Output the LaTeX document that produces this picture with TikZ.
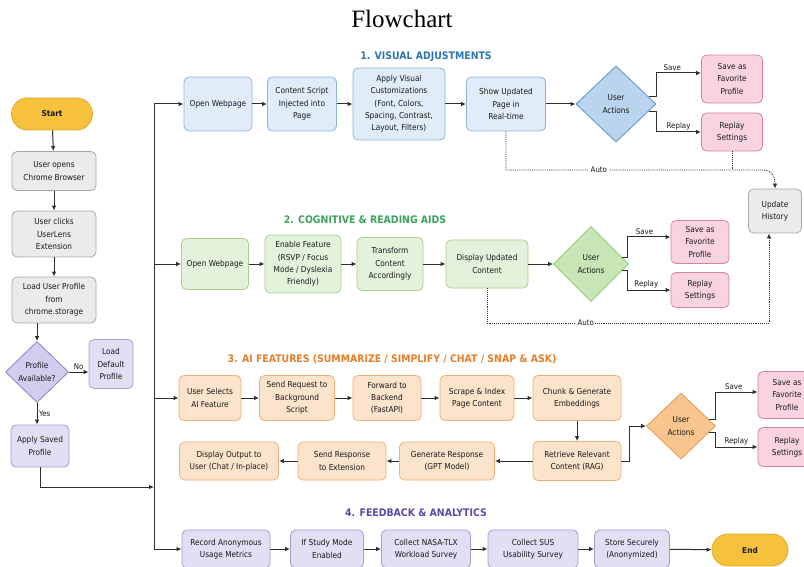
\documentclass[tikz,border=0pt]{standalone}
\usepackage{fontspec}
\setmainfont{DejaVu Sans Condensed}
\newfontfamily\titleserif{Liberation Serif}
\usetikzlibrary{shapes.geometric,arrows.meta,backgrounds}
\definecolor{bfill}{HTML}{E0ECF8}\definecolor{bdraw}{HTML}{8DB4DD}
\definecolor{bdfill}{HTML}{BAD4EE}\definecolor{bddraw}{HTML}{5B93CC}
\definecolor{gfill}{HTML}{E4F2DB}\definecolor{gdraw}{HTML}{A8D08D}
\definecolor{gdfill}{HTML}{C9E5B5}\definecolor{gddraw}{HTML}{8BC26C}
\definecolor{ofill}{HTML}{FCE3CB}\definecolor{odraw}{HTML}{F0B077}
\definecolor{odfill}{HTML}{F9C58E}\definecolor{oddraw}{HTML}{E5994C}
\definecolor{pfill}{HTML}{FAD3E3}\definecolor{pdraw}{HTML}{D8829F}
\definecolor{ufill}{HTML}{E2DEF3}\definecolor{udraw}{HTML}{A79BD6}
\definecolor{udfill}{HTML}{D4CCEE}\definecolor{uddraw}{HTML}{8E80C8}
\definecolor{kfill}{HTML}{EBEBEB}\definecolor{kdraw}{HTML}{A8A8A8}
\definecolor{yfill}{HTML}{F7C23B}\definecolor{ydraw}{HTML}{E0A82E}
\definecolor{tblue}{HTML}{2E75B6}\definecolor{tgreen}{HTML}{3BA35B}
\definecolor{torange}{HTML}{E67E2A}\definecolor{tpurple}{HTML}{5A4AA8}
\definecolor{linec}{HTML}{2E2E2E}
\newcommand\boxfont{\fontsize{8.2}{12.3}\selectfont}
\newcommand\lblfont{\fontsize{7.8}{9}\selectfont}
\newcommand\secfont{\fontsize{10.4}{12}\selectfont\bfseries}
\begin{document}
\begin{tikzpicture}[x=1pt,y=-1pt,
  box/.style={draw, rounded corners=5pt, align=center, inner sep=1pt, line width=0.8pt, font=\boxfont, text=black!90},
  bluebox/.style={box, fill=bfill, draw=bdraw},
  greenbox/.style={box, fill=gfill, draw=gdraw},
  orangebox/.style={box, fill=ofill, draw=odraw},
  pinkbox/.style={box, fill=pfill, draw=pdraw},
  purplebox/.style={box, fill=ufill, draw=udraw},
  graybox/.style={box, fill=kfill, draw=kdraw},
  termbox/.style={box, fill=yfill, draw=ydraw, rounded corners=16pt, font=\boxfont\bfseries},
  dia/.style={diamond, draw, align=center, inner sep=0pt, line width=0.8pt, font=\boxfont, text=black!90},
  sectitle/.style={font=\secfont, inner sep=0pt},
  lbl/.style={font=\lblfont, inner sep=1.5pt, text=black!90},
  arr/.style={draw=linec, line width=1pt, -{Latex[length=5pt,width=4.5pt]}},
  plain/.style={draw=linec, line width=1pt},
  dotarr/.style={draw=linec, line width=0.9pt, densely dotted, -{Latex[length=5pt,width=4.5pt]}},
  dotline/.style={draw=linec, line width=0.9pt, densely dotted},
  autolbl/.style={font=\lblfont, fill=white, inner sep=1.5pt, text=black!90}
]
\useasboundingbox (0,0) rectangle (804,567);
\fill[white] (0,0) rectangle (804,567);

\node[font=\titleserif\fontsize{25}{28}\selectfont, inner sep=0pt] (title) at (402,19) {Flowchart};

% section titles
\node[sectitle, text=tblue] (t1) at (426,57) {1. VISUAL ADJUSTMENTS};
\node[sectitle, text=tgreen] (t2) at (365,220) {2. COGNITIVE \& READING AIDS};
\node[sectitle, text=torange] (t3) at (392,359) {3. AI FEATURES (SUMMARIZE / SIMPLIFY / CHAT / SNAP \& ASK)};
\node[sectitle, text=tpurple] (t4) at (416,513) {4. FEEDBACK \& ANALYTICS};

% left column
\node[termbox, minimum width=81pt, minimum height=32pt] (start) at (52,114) {Start};
\node[graybox, minimum width=84pt, minimum height=39pt] (chrome) at (54,171) {User opens\\Chrome Browser};
\node[graybox, minimum width=84pt, minimum height=46pt] (clicks) at (54,234) {User clicks\\UserLens\\Extension};
\node[graybox, minimum width=84pt, minimum height=46pt] (load) at (54,300) {Load User Profile\\from\\chrome.storage};
\node[dia, fill=udfill, draw=uddraw, minimum width=63pt, minimum height=61pt] (avail) at (37,372) {Profile\\Available?};
\node[purplebox, minimum width=44pt, minimum height=49pt] (default) at (111,364) {Load\\Default\\Profile};
\node[purplebox, minimum width=58pt, minimum height=42pt] (apply) at (40,446) {Apply Saved\\Profile};

% row 1
\node[bluebox, minimum width=68pt, minimum height=54pt] (v1) at (218,104) {Open Webpage};
\node[bluebox, minimum width=69pt, minimum height=54pt] (v2) at (302,104) {Content Script\\Injected into\\Page};
\node[bluebox, minimum width=92pt, minimum height=72pt] (v3) at (399,104) {Apply Visual\\Customizations\\(Font, Colors,\\Spacing, Contrast,\\Layout, Filters)};
\node[bluebox, minimum width=79pt, minimum height=54pt] (v4) at (506,104) {Show Updated\\Page in\\Real-time};
\node[dia, fill=bdfill, draw=bddraw, minimum width=80pt, minimum height=76pt] (u1) at (616,104) {User\\Actions};
\node[pinkbox, minimum width=61pt, minimum height=48pt] (s1) at (732,79) {Save as\\Favorite\\Profile};
\node[pinkbox, minimum width=61pt, minimum height=38pt] (r1) at (732,132) {Replay\\Settings};
\node[graybox, minimum width=53pt, minimum height=44pt] (hist) at (775,211) {Update\\History};

% row 2
\node[greenbox, minimum width=67pt, minimum height=51pt] (g1) at (215,264) {Open Webpage};
\node[greenbox, minimum width=76pt, minimum height=58pt] (g2) at (303,264) {Enable Feature\\(RSVP / Focus\\Mode / Dyslexia\\Friendly)};
\node[greenbox, minimum width=66pt, minimum height=53pt] (g3) at (390,264) {Transform\\Content\\Accordingly};
\node[greenbox, minimum width=82pt, minimum height=48pt] (g4) at (487,264) {Display Updated\\Content};
\node[dia, fill=gdfill, draw=gddraw, minimum width=75pt, minimum height=75pt] (u2) at (591,264) {User\\Actions};
\node[pinkbox, minimum width=58pt, minimum height=43pt] (s2) at (700,242) {Save as\\Favorite\\Profile};
\node[pinkbox, minimum width=58pt, minimum height=35pt] (r2) at (700,290) {Replay\\Settings};

% row 3
\node[orangebox, minimum width=62pt, minimum height=45pt] (a1) at (210,398) {User Selects\\AI Feature};
\node[orangebox, minimum width=75pt, minimum height=45pt] (a2) at (297,398) {Send Request to\\Background\\Script};
\node[orangebox, minimum width=68pt, minimum height=45pt] (a3) at (387,398) {Forward to\\Backend\\(FastAPI)};
\node[orangebox, minimum width=74pt, minimum height=45pt] (a4) at (477,398) {Scrape \& Index\\Page Content};
\node[orangebox, minimum width=88pt, minimum height=45pt] (a5) at (577,398) {Chunk \& Generate\\Embeddings};
\node[orangebox, minimum width=88pt, minimum height=39pt] (a6) at (577,461) {Retrieve Relevant\\Content (RAG)};
\node[orangebox, minimum width=95pt, minimum height=38pt] (a7) at (447,461) {Generate Response\\(GPT Model)};
\node[orangebox, minimum width=88pt, minimum height=38pt] (a8) at (342,461) {Send Response\\to Extension};
\node[orangebox, minimum width=99pt, minimum height=38pt] (a9) at (229,461) {Display Output to\\User (Chat / In-place)};
\node[dia, fill=odfill, draw=oddraw, minimum width=69pt, minimum height=66pt] (u3) at (681,426) {User\\Actions};
\node[pinkbox, minimum width=58pt, minimum height=47pt] (s3) at (787,395) {Save as\\Favorite\\Profile};
\node[pinkbox, minimum width=58pt, minimum height=39pt] (r3) at (787,447) {Replay\\Settings};

% row 4
\node[purplebox, minimum width=88pt, minimum height=38pt] (f1) at (226,549) {Record Anonymous\\Usage Metrics};
\node[purplebox, minimum width=73pt, minimum height=38pt] (f2) at (327,549) {If Study Mode\\Enabled};
\node[purplebox, minimum width=89pt, minimum height=38pt] (f3) at (426,549) {Collect NASA-TLX\\Workload Survey};
\node[purplebox, minimum width=90pt, minimum height=38pt] (f4) at (533,549) {Collect SUS\\Usability Survey};
\node[purplebox, minimum width=75pt, minimum height=38pt] (f5) at (632,549) {Store Securely\\(Anonymized)};
\node[termbox, minimum width=76pt, minimum height=32pt] (end) at (750,550) {End};

% coordinates
\coordinate (tt) at (154,104);
\coordinate (tb) at (154,549);
\coordinate (tj) at (154,487);
\coordinate (au1) at (506,170);
\coordinate (au1r) at (764,170);
\coordinate (au2) at (487,323);
\coordinate (au2r) at (769,323);
\coordinate (au3s) at (511,461);
\coordinate (au3) at (511,494);
\coordinate (au3r) at (787,494);

% left column connectors
\draw[arr] (start) -- (chrome);
\draw[arr] (chrome) -- (clicks);
\draw[arr] (clicks) -- (load);
\draw[arr] (avail.north |- load.south) -- (avail.north);
\draw[arr] (avail.east) -- node[lbl, above]{No} (default.west |- avail.east);
\draw[arr] (avail.south) -- node[lbl, right]{Yes} (avail.south |- apply.north);
\draw[arr] (apply.south) |- (tj);

% trunk
\draw[plain] (tb) -- (tt);
\draw[arr] (tt) -- (v1.west);
\draw[arr] (tt |- g1.west) -- (g1.west);
\draw[arr] (tt |- a1.west) -- (a1.west);
\draw[arr] (tb) -- (f1.west);

% row 1
\draw[arr] (v1) -- (v2);
\draw[arr] (v2) -- (v3);
\draw[arr] (v3) -- (v4);
\draw[arr] (v4) -- (u1);
\draw[arr] (u1.12) -- ++(7,0) |- node[lbl, above, pos=0.68]{Save} ([yshift=6pt]s1.west);
\draw[arr] (u1.-12) -- ++(7,0) |- node[lbl, above, pos=0.75]{Replay} (r1.west);
\draw[dotarr] (v4.south) -- (au1) -- node[autolbl, pos=0.36]{Auto} (au1r) .. controls (771,170) and (775,176) .. (hist.north);
\draw[dotline] (r1.south) -- (r1.south |- au1);

% row 2
\draw[arr] (g1) -- (g2);
\draw[arr] (g2) -- (g3);
\draw[arr] (g3) -- (g4);
\draw[arr] (g4) -- (u2);
\draw[arr] (u2.12) -- ++(5,0) |- node[lbl, above, pos=0.7]{Save} ([yshift=5pt]s2.west);
\draw[arr] (u2.-12) -- ++(5,0) |- node[lbl, above, pos=0.72]{Replay} (r2.west);
\draw[dotarr] (g4.south) -- (au2) -- node[autolbl, pos=0.35]{Auto} (au2r) -- (au2r |- hist.south);

% row 3
\draw[arr] (a1) -- (a2);
\draw[arr] (a2) -- (a3);
\draw[arr] (a3) -- (a4);
\draw[arr] (a4) -- (a5);
\draw[arr] (a5) -- (a6);
\draw[arr] (a6) -- (a7);
\draw[arr] (a7) -- (a8);
\draw[arr] (a8) -- (a9);
\draw[arr] (a6.east) -- ++(8,0) |- (u3.west);
\draw[arr] (u3.13) -- ++(6,0) |- node[lbl, above, pos=0.72]{Save} ([yshift=3pt]s3.west);
\draw[arr] (u3.-13) -- ++(6,0) |- node[lbl, above, pos=0.75]{Replay} (r3.west);
\begin{scope}[on background layer]
\draw[dotarr] (au3s) -- (au3) -- node[autolbl, pos=0.5]{Auto} (au3r) -- (au3r |- hist.south);
\end{scope}

% row 4
\draw[arr] (f1) -- (f2);
\draw[arr] (f2) -- (f3);
\draw[arr] (f3) -- (f4);
\draw[arr] (f4) -- (f5);
\draw[arr] (f5) -- (end);
\end{tikzpicture}
\end{document}
